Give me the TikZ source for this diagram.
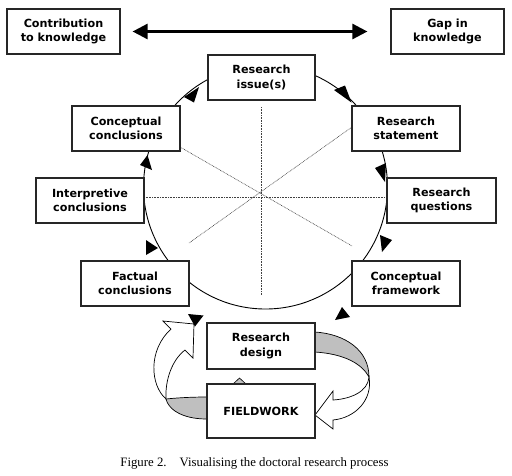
\documentclass[tikz,border=0pt]{standalone}
\usepackage{fontspec}
\setmainfont{DejaVu Sans}
\newfontfamily\capfont{Liberation Serif}
\usetikzlibrary{arrows.meta}
\begin{document}
\begin{tikzpicture}[x=1pt,y=-1pt,
  box/.style={draw=black!85, line width=1.2pt, fill=white, align=center,
    font=\bfseries\fontsize{11.2}{14.5}\selectfont, inner sep=0pt,
    minimum width=108pt, minimum height=45pt},
  dotline/.style={draw=black!75, line width=0.6pt, dash pattern=on 0.8pt off 0.8pt},
  ring/.style={draw=black, line width=0.9pt},
  ahead/.style={fill=black},
  band/.style={draw=black, line width=0.7pt, fill=black!25},
  hollow/.style={draw=black, line width=0.7pt, fill=white}]
\useasboundingbox (0,0) rectangle (512,475);

% circle and dotted spokes
\draw[ring] (265.5,187) circle [radius=122pt];
\draw[dotline] (261,107) -- (261,295);
\draw[dotline] (144,197) -- (387,197);
\draw[dotline] (180,147) -- (352,246);
\draw[dotline] (352,127) -- (189,243);

% block arrows
\path[hollow] (369,377) .. controls (368,392) and (350,399) .. (333,400)
  -- (333,391) -- (315,415) -- (333,429) -- (333,420)
  .. controls (355,418) and (373,400) .. (369,377) -- cycle;
\path[band] (315,332) .. controls (345,334) and (369,350) .. (369,377)
  .. controls (362,364) and (345,354) .. (315,352) -- cycle;

\path[hollow] (166,399) .. controls (150,385) and (148,350) .. (171,329)
  -- (163,321) -- (194,324) -- (193,358) -- (185,350)
  .. controls (172,360) and (165,380) .. (166,399) -- cycle;
\path[band] (207,397) .. controls (190,397) and (175,398) .. (166,399)
  .. controls (168,408) and (180,419) .. (207,419) -- cycle;

\path[draw=black, line width=0.6pt, fill=black!25] (232,385) -- (239.5,378) -- (247,385);

% boxes
\node[box, minimum width=113pt] (contrib) at (63.5,31.5) {Contribution\\to knowledge};
\node[box, minimum width=113pt] (gap) at (447.5,31.5) {Gap in\\knowledge};
\node[box, minimum width=107pt] (issue) at (261.5,77.5) {Research\\issue(s)};
\node[box] (cconcl) at (126,128.5) {Conceptual\\conclusions};
\node[box] (stmt) at (406,128.5) {Research\\statement};
\node[box] (interp) at (90,200.5) {Interpretive\\conclusions};
\node[box, minimum width=109pt] (quest) at (441.5,200.5) {Research\\questions};
\node[box] (fact) at (135,283.5) {Factual\\conclusions};
\node[box] (frame) at (406,283.5) {Conceptual\\framework};
\node[box, minimum height=46pt] (design) at (261,346) {Research\\design};
\node[box, minimum height=54pt] (field) at (261,411) {FIELDWORK};

% double arrow
\draw[line width=2.6pt, {Triangle[length=15pt,width=15pt]}-{Triangle[length=15pt,width=15pt]},
  shorten <=12pt, shorten >=23pt] (contrib) -- (gap);

% arrowheads on the cycle
\fill[ahead] (199,87) -- (184,97) -- (194,102.5) -- cycle;
\fill[ahead] (334,90) -- (345,85.5) -- (351.5,102.5) -- cycle;
\fill[ahead] (375,168) -- (386,163) -- (385,182) -- cycle;
\fill[ahead] (380,235) -- (392,240) -- (382,252) -- cycle;
\fill[ahead] (342,307) -- (350,317) -- (335,320) -- cycle;
\fill[ahead] (188,314) -- (203.5,315.5) -- (195,326.5) -- cycle;
\fill[ahead] (146,240) -- (158,248) -- (146,255) -- cycle;
\fill[ahead] (147.5,155) -- (140,165) -- (152,170) -- cycle;

% caption
\node[font=\capfont\fontsize{12.8}{14}\selectfont, inner sep=0pt] (cap) at (254.5,463)
  {Figure 2.\hspace{13pt}Visualising the doctoral research process};
\end{tikzpicture}
\end{document}
